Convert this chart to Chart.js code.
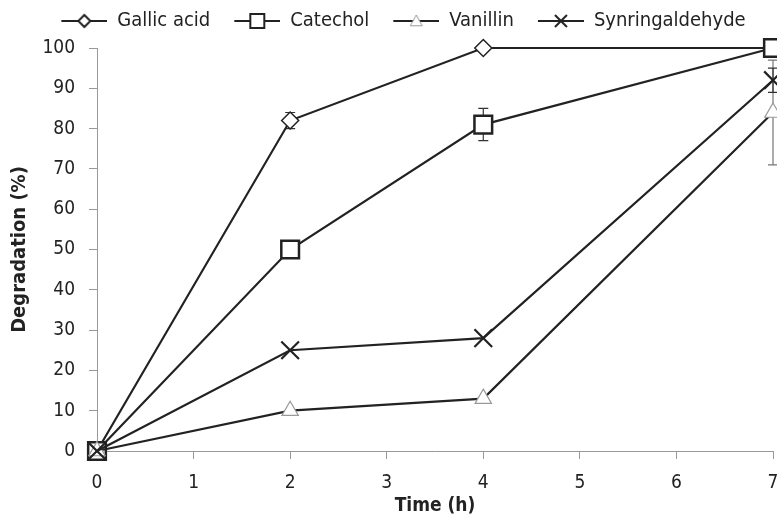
<!DOCTYPE html>
<html lang="en">
<head>
    <meta charset="UTF-8">
    <title>Degradation over time</title>
    <script src="https://cdn.jsdelivr.net/npm/chart.js"></script>
    <style>
        html, body { margin: 0; padding: 0; background: #fff; overflow: hidden; }
    </style>
</head>
<body>
    <canvas id="degChart" width="777" height="523"></canvas>

    <script>
        // data
        const timeH = [0, 2, 4, 7];
        const gallicAcid = [0, 82, 100, 100];
        const catechol = [0, 50, 81, 100];
        const vanillin = [0, 10, 13, 84];
        const synringaldehyde = [0, 25, 28, 92];
        // error bar half-widths
        const gallicErr = [0, 2, 0, 0];
        const catecholErr = [0, 0, 4, 0];
        const vanillinErr = [0, 0, 0, 13];
        const synErr = [0, 0, 0, 3];
        const xTicks = [0, 1, 2, 3, 4, 5, 6, 7];
        const yTicks = [0, 10, 20, 30, 40, 50, 60, 70, 80, 90, 100];

        const FONT = "'DejaVu Sans Condensed', 'Liberation Sans Narrow', sans-serif";
        const LINE = '#222';
        const ICON_W = 46;   // visible line + marker
        const ICON_GAP = 14; // blank before it, spaces the legend items

        function toPoints(ys) {
            return timeH.map((t, i) => ({ x: t, y: ys[i] }));
        }

        // little line+marker pictures for the legend
        function legendIcon(style, border, radius) {
            const c = document.createElement('canvas');
            c.width = ICON_W + ICON_GAP; c.height = 20;
            const g = c.getContext('2d');
            g.strokeStyle = LINE; g.lineWidth = 2;
            g.beginPath(); g.moveTo(ICON_GAP, 10); g.lineTo(ICON_GAP + ICON_W, 10); g.stroke();
            g.strokeStyle = border; g.fillStyle = '#fff'; g.lineWidth = 2;
            const cx = ICON_GAP + ICON_W / 2, cy = 10, r = radius;
            g.beginPath();
            if (style === 'rectRot') {
                g.moveTo(cx, cy - r); g.lineTo(cx + r, cy); g.lineTo(cx, cy + r); g.lineTo(cx - r, cy); g.closePath();
                g.fill(); g.stroke();
            } else if (style === 'rect') {
                g.rect(cx - r, cy - r, 2 * r, 2 * r); g.fill(); g.stroke();
            } else if (style === 'triangle') {
                g.lineWidth = 1;
                g.moveTo(cx, cy - r); g.lineTo(cx + r, cy + r * 0.8); g.lineTo(cx - r, cy + r * 0.8); g.closePath();
                g.fill(); g.stroke();
            } else {
                g.moveTo(cx - r, cy - r); g.lineTo(cx + r, cy + r);
                g.moveTo(cx + r, cy - r); g.lineTo(cx - r, cy + r); g.stroke();
            }
            return c;
        }

        const series = [
            { label: 'Gallic acid', data: gallicAcid, err: gallicErr, style: 'rectRot', border: LINE, radius: 8.5, bw: 1.5, errColor: '#333' },
            { label: 'Catechol', data: catechol, err: catecholErr, style: 'rect', border: LINE, radius: 12.5, bw: 2.5, errColor: '#333' },
            { label: 'Vanillin', data: vanillin, err: vanillinErr, style: 'triangle', border: '#999', radius: 9.5, bw: 1.2, errColor: '#777' },
            { label: 'Synringaldehyde', data: synringaldehyde, err: synErr, style: 'crossRot', border: LINE, radius: 12.5, bw: 2.2, errColor: '#333' }
        ];

        const icons = [
            legendIcon('rectRot', LINE, 6),
            legendIcon('rect', LINE, 7),
            legendIcon('triangle', '#999', 6),
            legendIcon('cross', LINE, 6)
        ];

        // draw error bars before the markers
        const errorBars = {
            id: 'errorBars',
            beforeDatasetsDraw(chart) {
                const ctx = chart.ctx;
                const xs = chart.scales.x, ys = chart.scales.y;
                ctx.save();
                series.forEach(s => {
                    s.err.forEach((e, i) => {
                        if (!e) return;
                        const px = xs.getPixelForValue(timeH[i]);
                        const top = ys.getPixelForValue(s.data[i] + e);
                        const bot = ys.getPixelForValue(s.data[i] - e);
                        ctx.strokeStyle = s.errColor;
                        ctx.lineWidth = 1.2;
                        ctx.beginPath();
                        ctx.moveTo(px, top); ctx.lineTo(px, bot);
                        ctx.moveTo(px - 5, top); ctx.lineTo(px + 5, top);
                        ctx.moveTo(px - 5, bot); ctx.lineTo(px + 5, bot);
                        ctx.stroke();
                    });
                });
                ctx.restore();
            }
        };

        // the legend sits a bit right of centre and higher in the original
        const legendShift = {
            id: 'legendShift',
            afterLayout(chart) {
                chart.legend.left += 10;
                chart.legend.right += 10;
                chart.legend.top -= 7;
                chart.legend.bottom -= 7;
            }
        };

        const ctx = document.getElementById('degChart').getContext('2d');
        new Chart(ctx, {
            type: 'scatter',
            data: {
                // later series drawn on top, like the original
                datasets: series.map((s, i) => ({
                    label: s.label,
                    data: toPoints(s.data),
                    order: series.length - i,
                    showLine: true,
                    borderColor: LINE,
                    borderWidth: 2.2,
                    tension: 0,
                    clip: false,
                    pointStyle: s.style,
                    pointRadius: s.radius,
                    pointHoverRadius: s.radius,
                    pointBackgroundColor: '#fff',
                    pointBorderColor: s.border,
                    pointBorderWidth: s.bw
                }))
            },
            options: {
                responsive: false,
                animation: false,
                devicePixelRatio: 1,
                layout: { autoPadding: false, padding: { left: 0, right: 4, top: 8, bottom: 0 } },
                plugins: {
                    tooltip: { enabled: false },
                    legend: {
                        position: 'top',
                        labels: {
                            usePointStyle: true,
                            pointStyleWidth: ICON_W + ICON_GAP,
                            padding: 10,
                            color: '#222',
                            font: { family: FONT, size: 20 },
                            generateLabels: chart => series.map((s, i) => ({
                                text: s.label,
                                pointStyle: icons[i],
                                datasetIndex: i,
                                fontColor: '#222',
                                lineWidth: 0,
                                strokeStyle: 'transparent',
                                fillStyle: 'transparent'
                            }))
                        }
                    }
                },
                scales: {
                    x: {
                        type: 'linear',
                        min: 0,
                        max: 7,
                        afterBuildTicks: sc => { sc.ticks = xTicks.map(v => ({ value: v })); },
                        afterFit: sc => { sc.paddingRight = 0; sc.height = 72; },
                        grid: { drawOnChartArea: false, tickLength: 8, color: '#999' },
                        border: { color: '#999', width: 1 },
                        ticks: { color: '#222', font: { family: FONT, size: 19 }, padding: 13 },
                        title: { display: true, text: 'Time (h)', color: '#222', font: { family: FONT, size: 19, weight: 'bold' }, padding: { top: 0, bottom: 6 } }
                    },
                    y: {
                        min: 0,
                        max: 100,
                        afterBuildTicks: sc => { sc.ticks = yTicks.map(v => ({ value: v })); },
                        afterFit: sc => { sc.width = 97; },
                        grid: { drawOnChartArea: false, tickLength: 8, color: '#999' },
                        border: { color: '#999', width: 1 },
                        ticks: { color: '#222', font: { family: FONT, size: 19 }, padding: 14 },
                        title: { display: true, text: 'Degradation (%)', color: '#222', font: { family: FONT, size: 20, weight: 'bold' }, padding: { top: 8, bottom: 0 } }
                    }
                }
            },
            plugins: [errorBars, legendShift]
        });
    </script>
</body>
</html>
